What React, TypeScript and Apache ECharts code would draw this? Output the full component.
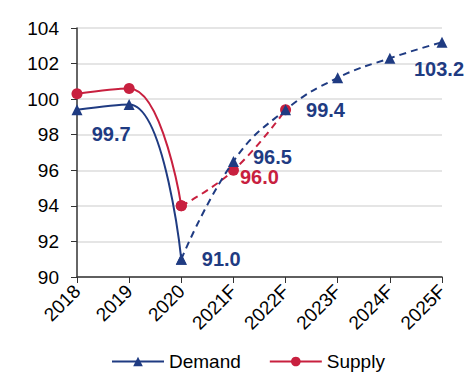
import React, { useEffect, useRef } from "react";
import * as echarts from "echarts";

// Years on the category axis; the actual years are followed by forecasts
const years = ["2018", "2019", "2020", "2021F", "2022F", "2023F", "2024F", "2025F"];
const demand = [99.4, 99.7, 91.0, 96.5, 99.4, 101.2, 102.3, 103.2];
const supply = [100.3, 100.6, 94.0, 96.0, 99.4];
const lastActual = 2; // index of 2020, where the dashed forecast begins
const yTicks = { min: 90, max: 104, step: 2 };

const NAVY = "#1f3b82";
const RED = "#c8203f";
const FONT = "Liberation Sans, Arial, sans-serif";

// Where each value label sits relative to its point
const demandLabels: Record<number, any> = {
  1: { position: "bottom", offset: [-18, 9] },
  2: { position: "right", offset: [10, 0] },
  3: { position: "right", offset: [9, -4] },
  4: { position: "right", offset: [10, 0] },
  7: { position: "bottom", offset: [-3, 6] },
};
const supplyLabels: Record<number, any> = {
  3: { position: "right", offset: [-4, 7] },
};

function pieces(values: number[], labels: Record<number, any>, part: "actual" | "forecast") {
  return values.map((v, i) => {
    const inPart = part === "actual" ? i <= lastActual : i >= lastActual;
    if (!inPart) return "-";
    const lbl = labels[i];
    // the shared 2020 point carries its label on the actual (solid) piece only
    const ownsLabel = part === "actual" ? i <= lastActual : i > lastActual;
    if (lbl && ownsLabel) return { value: v, label: { show: true, ...lbl } };
    return v;
  });
}

function lineSeries(name: string, data: any[], color: string, symbol: string, size: number, dashed: boolean, z: number) {
  return {
    name,
    type: "line",
    data,
    smooth: 0.45,
    symbol,
    symbolSize: size,
    z,
    itemStyle: { color },
    lineStyle: { color, width: 2, type: dashed ? [7, 5] : "solid" },
    label: {
      show: false,
      color,
      fontFamily: FONT,
      fontWeight: "bold",
      fontSize: 20,
      lineHeight: 20,
      formatter: (p: any) => Number(p.value).toFixed(1),
    },
  };
}

export default function App() {
  const ref = useRef<HTMLDivElement>(null);
  useEffect(() => {
    if (!ref.current) return;
    const chart = echarts.init(ref.current, undefined, { renderer: "svg" });
    chart.setOption({
      animation: false,
      textStyle: { fontFamily: FONT },
      grid: { left: 77, right: 26, top: 28, bottom: 95 },
      legend: {
        data: ["Demand", "Supply"],
        left: 106,
        top: 347,
        itemWidth: 52,
        itemHeight: 12,
        itemGap: 28,
        textStyle: { fontSize: 19, color: "#000", fontFamily: FONT },
      },
      xAxis: {
        type: "category",
        data: years,
        boundaryGap: false,
        axisLine: { lineStyle: { color: "#333", width: 1.5 } },
        axisTick: { show: true, length: 6, lineStyle: { color: "#333" } },
        axisLabel: { rotate: 45, fontSize: 19, color: "#000", margin: 11, interval: 0 },
        splitLine: { show: false },
      },
      yAxis: {
        type: "value",
        min: yTicks.min,
        max: yTicks.max,
        interval: yTicks.step,
        axisLine: { show: true, lineStyle: { color: "#333", width: 1.5 } },
        axisTick: { show: true, length: 6, lineStyle: { color: "#333" } },
        axisLabel: { fontSize: 19, color: "#000", margin: 18 },
        splitLine: { lineStyle: { color: "#dcdcdc", width: 1.5 } },
      },
      series: [
        lineSeries("Supply", pieces(supply, supplyLabels, "actual"), RED, "circle", 11, false, 2),
        lineSeries("Supply forecast", pieces(supply, supplyLabels, "forecast"), RED, "circle", 11, true, 2),
        lineSeries("Demand", pieces(demand, demandLabels, "actual"), NAVY, "triangle", 11, false, 3),
        lineSeries("Demand forecast", pieces(demand, demandLabels, "forecast"), NAVY, "triangle", 11, true, 3),
      ],
    });
    return () => chart.dispose();
  }, []);
  return (
    <div
      ref={ref}
      style={{ position: "absolute", left: 0, top: 0, width: 468, height: 372, background: "#fff" }}
    />
  );
}
